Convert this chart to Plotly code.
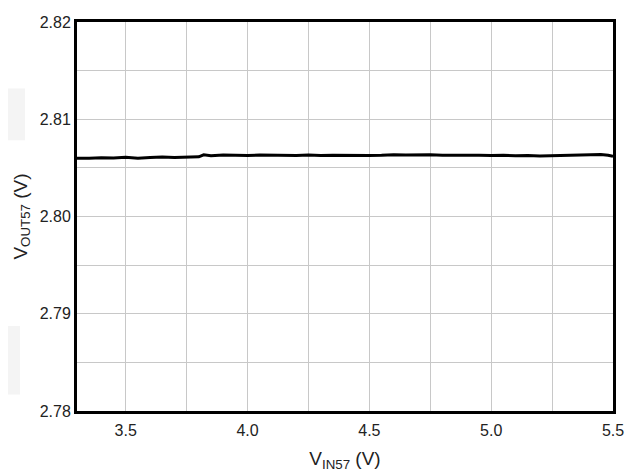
import plotly.graph_objects as go

vin = [3.30, 3.35, 3.40, 3.45, 3.50, 3.55, 3.60, 3.65, 3.70, 3.75, 3.80, 3.82, 3.85,
       3.90, 3.95, 4.00, 4.05, 4.10, 4.15, 4.20, 4.25, 4.30, 4.35, 4.40, 4.45, 4.50,
       4.55, 4.60, 4.65, 4.70, 4.75, 4.80, 4.85, 4.90, 4.95, 5.00, 5.05, 5.10, 5.15,
       5.20, 5.25, 5.30, 5.35, 5.40, 5.45, 5.48, 5.50]
vout = [2.80600, 2.80598, 2.80604, 2.80601, 2.80608, 2.80600, 2.80606, 2.80612, 2.80607,
        2.80611, 2.80614, 2.80634, 2.80625, 2.80633, 2.80630, 2.80628, 2.80632, 2.80629,
        2.80631, 2.80628, 2.80632, 2.80627, 2.80630, 2.80628, 2.80624, 2.80627, 2.80630,
        2.80636, 2.80633, 2.80637, 2.80635, 2.80630, 2.80632, 2.80628, 2.80630, 2.80626,
        2.80629, 2.80624, 2.80628, 2.80623, 2.80627, 2.80631, 2.80630, 2.80634, 2.80637,
        2.80630, 2.80618]

x_ticks = [3.5, 4.0, 4.5, 5.0, 5.5]
x_ticklabels = ["3.5", "4.0", "4.5", "5.0", "5.5"]
y_ticks = [2.78, 2.79, 2.80, 2.81, 2.82]
y_ticklabels = ["2.78", "2.79", "2.80", "2.81", "2.82"]

fig = go.Figure()
fig.add_trace(go.Scatter(x=vin, y=vout, mode="lines",
                         line=dict(color="black", width=3), showlegend=False))

font = dict(family="Liberation Sans, Arial, sans-serif", size=16, color="#222222")
grid = "#c8c8c8"

fig.update_layout(
    width=630, height=465,
    margin=dict(l=69, r=25, t=6, b=61),
    paper_bgcolor="white", plot_bgcolor="white",
    font=font,
    xaxis=dict(range=[3.3, 5.5], tickvals=x_ticks, ticktext=x_ticklabels,
               showgrid=True, gridcolor=grid, gridwidth=1,
               minor=dict(dtick=0.25, tick0=3.25, showgrid=True, gridcolor=grid, gridwidth=1),
               showline=True, linecolor="black", linewidth=3, mirror=True,
               ticks="", zeroline=False, ticklabelstandoff=3,
               title=dict(text="V<sub>IN57</sub> (V)", standoff=14)),
    yaxis=dict(range=[2.78, 2.82], tickvals=y_ticks, ticktext=y_ticklabels,
               showgrid=True, gridcolor=grid, gridwidth=1,
               minor=dict(dtick=0.005, tick0=2.775, showgrid=True, gridcolor=grid, gridwidth=1),
               showline=True, linecolor="black", linewidth=3, mirror=True,
               ticks="", zeroline=False,
               title=dict(text="V<sub>OUT57</sub> (V)", standoff=8)),
    shapes=[
        dict(type="rect", xref="paper", yref="paper", x0=-77/536, x1=-52/536,
             y0=(412-135)/398, y1=(412-82)/398, fillcolor="#f4f4f4", line=dict(width=0), layer="below"),
        dict(type="rect", xref="paper", yref="paper", x0=-77/536, x1=-57/536,
             y0=(412-395)/398, y1=(412-325)/398, fillcolor="#f4f4f4", line=dict(width=0), layer="below"),
    ],
)

fig.write_html("out.html")
